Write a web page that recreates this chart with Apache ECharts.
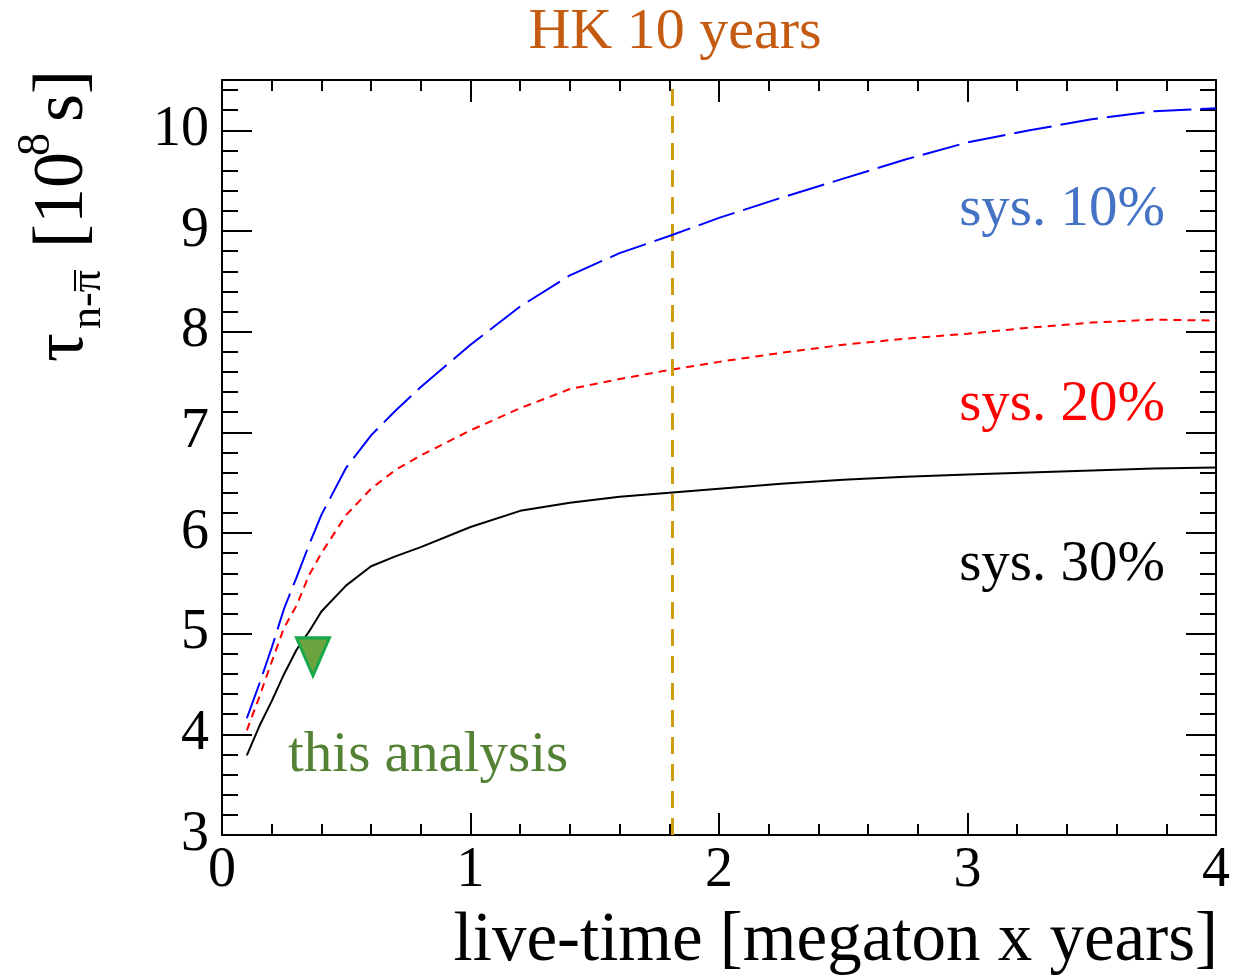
<!DOCTYPE html>
<html>
<head>
<meta charset="utf-8">
<script src="https://cdn.jsdelivr.net/npm/echarts@6/dist/echarts.min.js"></script>
<style>
  html, body { margin: 0; padding: 0; background: #ffffff; }
  #chart { width: 1243px; height: 977px; }
</style>
</head>
<body>
<div id="chart"></div>
<script>
// live-time sampling points [megaton x years]
const liveTime = [0.1, 0.15, 0.2, 0.25, 0.3, 0.35, 0.4, 0.5, 0.6, 0.7, 0.8, 1.0, 1.2, 1.4, 1.6, 1.8, 2.0, 2.25, 2.5, 2.75, 3.0, 3.25, 3.5, 3.75, 4.0];
// lifetime limits [10^8 s] for each systematic uncertainty
const sys10 = [4.16, 4.50, 4.86, 5.25, 5.56, 5.88, 6.18, 6.65, 6.97, 7.22, 7.45, 7.87, 8.25, 8.56, 8.78, 8.95, 9.13, 9.33, 9.52, 9.71, 9.88, 10.00, 10.11, 10.19, 10.22];
const sys20 = [4.04, 4.37, 4.72, 5.06, 5.28, 5.58, 5.80, 6.18, 6.44, 6.63, 6.77, 7.02, 7.24, 7.43, 7.53, 7.62, 7.70, 7.79, 7.87, 7.93, 7.98, 8.04, 8.09, 8.12, 8.11];
const sys30 = [3.79, 4.08, 4.33, 4.60, 4.84, 5.02, 5.22, 5.48, 5.67, 5.77, 5.86, 6.06, 6.22, 6.30, 6.36, 6.40, 6.44, 6.49, 6.53, 6.56, 6.58, 6.60, 6.62, 6.64, 6.65];
// current result
const thisAnalysisX = [0.366];
const thisAnalysisY = [4.77];
// Hyper-Kamiokande 10 years exposure
const hk10Years = 1.81;
// axis ranges
const xTicks = [0, 1, 2, 3, 4];
const yRange = [3, 10.5];

const FONT = '"Liberation Serif", "DejaVu Serif", serif';

function pairs(xs, ys) { return xs.map((x, i) => [x, ys[i]]); }

// text placed by its baseline (top-aligned box, ascent ~0.79 em)
function label(text, x, baseline, size, color, align) {
  return {
    type: 'text',
    style: { text: text, x: x, y: baseline - Math.round(0.79 * size), align: align || 'left', verticalAlign: 'top', font: size + 'px ' + FONT, fill: color }
  };
}

const chart = echarts.init(document.getElementById('chart'), null, { renderer: 'canvas' });

const axisLine = { show: true, onZero: false, lineStyle: { color: '#000', width: 2 } };

function xAxisDef(pos, labels) {
  return {
    type: 'value', position: pos, min: xTicks[0], max: xTicks[xTicks.length - 1], interval: 1,
    axisLine: axisLine,
    axisTick: { show: true, inside: true, length: 22, lineStyle: { color: '#000', width: 2 } },
    minorTick: { show: true, splitNumber: 5, length: 11, lineStyle: { color: '#000', width: 2 } },
    axisLabel: labels ? { show: true, fontFamily: FONT, fontSize: 56, color: '#000', margin: 8 } : { show: false },
    splitLine: { show: false }
  };
}
function yAxisDef(pos, labels) {
  return {
    type: 'value', position: pos, min: yRange[0], max: yRange[1], interval: 1,
    axisLine: axisLine,
    axisTick: { show: true, inside: true, length: 30, lineStyle: { color: '#000', width: 2 } },
    minorTick: { show: true, splitNumber: 5, length: 16, lineStyle: { color: '#000', width: 2 } },
    axisLabel: labels ? {
      show: true, fontFamily: FONT, fontSize: 56, color: '#000', margin: 13,
      formatter: v => (Math.abs(v - Math.round(v)) < 1e-6 ? String(Math.round(v)) : '')
    } : { show: false },
    splitLine: { show: false }
  };
}

// rotated y-axis title: tau_{n-nbar} [10^8 s]; local x runs upward, local y runs right
const T = 72, SUB = 44, SUP = 46;
const yTitle = {
  type: 'group', x: 84, y: 362, rotation: Math.PI / 2,
  children: [
    { type: 'text', style: { text: 'τ', x: 0, y: -Math.round(0.79 * T), verticalAlign: 'top', font: T + 'px ' + FONT, fill: '#000' } },
    { type: 'text', style: { text: 'n-π', x: 33, y: 17 - Math.round(0.79 * SUB), verticalAlign: 'top', font: SUB + 'px ' + FONT, fill: '#000' } },
    { type: 'line', shape: { x1: 71, y1: -9, x2: 92, y2: -9 }, style: { stroke: '#000', lineWidth: 2 } },
    { type: 'text', style: { text: '[10', x: 114, y: -Math.round(0.79 * T), verticalAlign: 'top', font: T + 'px ' + FONT, fill: '#000' } },
    { type: 'text', style: { text: '8', x: 206, y: -34 - Math.round(0.79 * SUP), verticalAlign: 'top', font: SUP + 'px ' + FONT, fill: '#000' } },
    { type: 'text', style: { text: 's]', x: 240, y: -Math.round(0.79 * T), verticalAlign: 'top', font: T + 'px ' + FONT, fill: '#000' } }
  ]
};

const option = {
  backgroundColor: '#ffffff',
  animation: false,
  grid: { left: 222, right: 27, top: 80, bottom: 142, containLabel: false },
  xAxis: [xAxisDef('bottom', true), xAxisDef('top', false)],
  yAxis: [yAxisDef('left', true), yAxisDef('right', false)],
  series: [
    {
      name: 'sys. 30%', type: 'line', data: pairs(liveTime, sys30),
      showSymbol: false, symbol: 'none', z: 3,
      lineStyle: { color: '#000000', width: 2, type: 'solid' },
      markLine: {
        silent: true, symbol: ['none', 'none'], label: { show: false },
        lineStyle: { color: '#cf9d12', width: 3, type: [17, 10] },
        data: [{ xAxis: hk10Years }]
      }
    },
    {
      name: 'sys. 20%', type: 'line', data: pairs(liveTime, sys20),
      showSymbol: false, symbol: 'none', z: 4,
      lineStyle: { color: '#ff0000', width: 2, type: [8, 6] }
    },
    {
      name: 'sys. 10%', type: 'line', data: pairs(liveTime, sys10),
      showSymbol: false, symbol: 'none', z: 5,
      lineStyle: { color: '#0000ff', width: 2, type: [38, 9] }
    },
    {
      name: 'this analysis', type: 'scatter', data: pairs(thisAnalysisX, thisAnalysisY),
      symbol: 'triangle', symbolRotate: 180, symbolSize: [33, 38], z: 6,
      itemStyle: { color: '#6ea440', borderColor: '#18a84a', borderWidth: 3, opacity: 1 }
    }
  ],
  graphic: [
    label('HK 10 years', 675, 50, 58, '#c55a11', 'center'),
    label('sys. 10%', 1165, 227, 57, '#4472c4', 'right'),
    label('sys. 20%', 1165, 422, 57, '#ff0000', 'right'),
    label('sys. 30%', 1165, 582, 57, '#000000', 'right'),
    label('this analysis', 288, 773, 57, '#548235', 'left'),
    label('live-time [megaton x years]', 1218, 962, 69, '#000000', 'right'),
    yTitle
  ]
};

chart.setOption(option);
</script>
</body>
</html>
